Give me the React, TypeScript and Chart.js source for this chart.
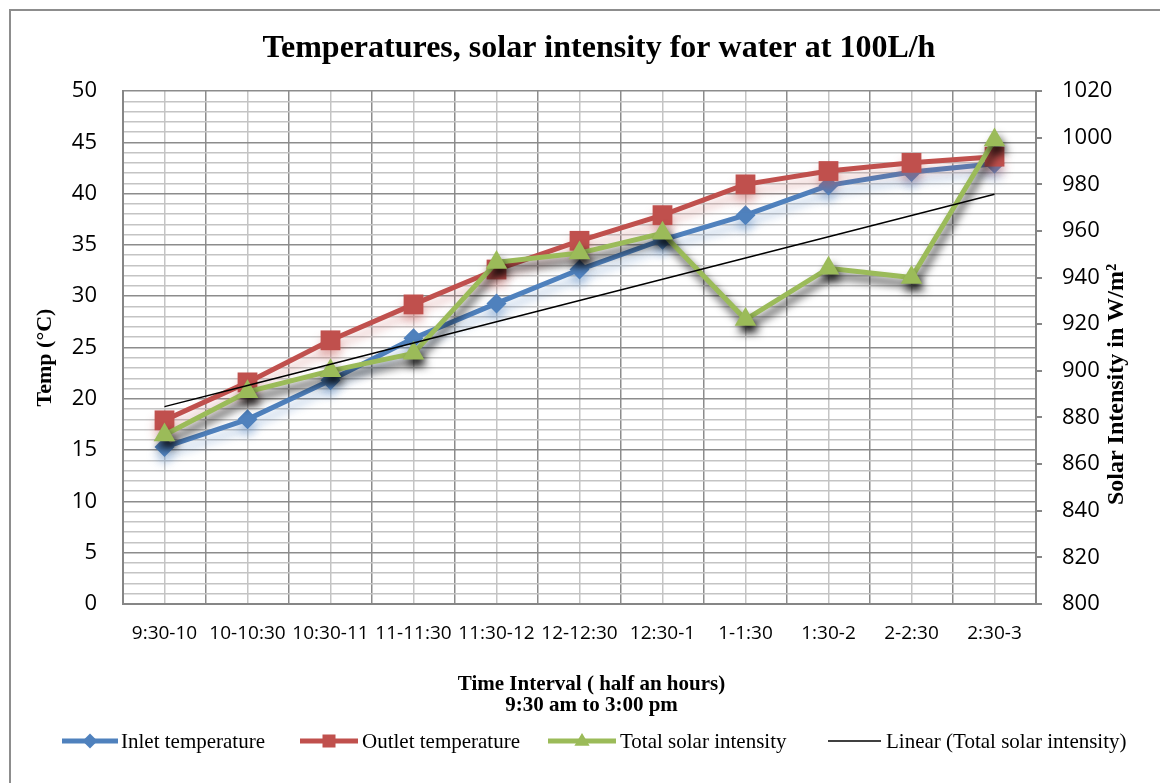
import React, { useEffect, useRef } from 'react';
import { Chart, registerables } from 'chart.js';

Chart.register(...registerables);

const categories = ['9:30-10', '10-10:30', '10:30-11', '11-11:30', '11:30-12', '12-12:30', '12:30-1', '1-1:30', '1:30-2', '2-2:30', '2:30-3'];
const inletTemp = [15.3, 18.0, 21.8, 25.9, 29.3, 32.6, 35.5, 37.9, 40.8, 42.1, 42.9];
const outletTemp = [17.9, 21.6, 25.7, 29.2, 32.6, 35.4, 37.9, 40.9, 42.2, 43.0, 43.6];
const solarIntensity = [872.5, 891, 900, 907.5, 946.5, 950.5, 959, 922, 944, 940, 999];

const titleText = 'Temperatures, solar intensity for water at 100L/h';
const xTitleLines = ['Time Interval ( half an hours)', '9:30 am to 3:00 pm'];
const yTitle = 'Temp (°C)';
const y1Title = 'Solar Intensity in W/m²';

const BLUE = '#4f81bd';
const RED = '#c0504d';
const GREEN = '#9bbb59';
const GRID_DARK = '#8c8c8c';
const GRID_LIGHT = '#c4c4c4';

function linearFit(values: number[]): number[] {
  const n = values.length;
  const mx = (n - 1) / 2;
  const my = values.reduce((a, b) => a + b, 0) / n;
  let sxy = 0;
  let sxx = 0;
  values.forEach((v, i) => {
    sxy += (i - mx) * (v - my);
    sxx += (i - mx) * (i - mx);
  });
  const b = sxy / sxx;
  const a = my - b * mx;
  return values.map((_, i) => a + b * i);
}

const shadowPlugin = {
  id: 'seriesShadows',
  beforeDatasetDraw(chart: any, args: any) {
    const ds: any = chart.data.datasets[args.index];
    const s = ds.shadow;
    if (!s) return;
    const ctx = chart.ctx;
    ctx.save();
    ctx.shadowColor = s.color;
    ctx.shadowBlur = s.blur;
    ctx.shadowOffsetX = s.x;
    ctx.shadowOffsetY = s.y;
  },
  afterDatasetDraw(chart: any, args: any) {
    const ds: any = chart.data.datasets[args.index];
    if (ds.shadow) chart.ctx.restore();
  },
};

const axisTitlesPlugin = {
  id: 'axisTitles',
  afterDraw(chart: any) {
    const ctx = chart.ctx;
    const area = chart.chartArea;
    ctx.save();
    ctx.fillStyle = '#000';
    ctx.textAlign = 'center';
    ctx.textBaseline = 'middle';
    // left axis title
    ctx.save();
    ctx.font = 'bold 22px "Liberation Serif"';
    ctx.translate(45, (area.top + area.bottom) / 2 + 10);
    ctx.rotate(-Math.PI / 2);
    ctx.fillText(yTitle, 0, 0);
    ctx.restore();
    // right axis title
    ctx.save();
    ctx.font = 'bold 24px "Liberation Serif"';
    ctx.translate(1117, (area.top + area.bottom) / 2 + 37);
    ctx.rotate(-Math.PI / 2);
    ctx.fillText(y1Title, 0, 0);
    ctx.restore();
    // x axis title
    ctx.font = 'bold 21px "Liberation Serif"';
    const cx = (area.left + area.right) / 2 + 12;
    xTitleLines.forEach((line, i) => {
      ctx.fillText(line, cx, 685 + i * 21);
    });
    ctx.restore();
  },
};

function LegendMarker({ kind, color, width }: { kind: string; color: string; width: number }) {
  const h = 24;
  const cy = h / 2;
  const cx = width / 2;
  let marker: any = null;
  if (kind === 'diamond') {
    const r = 7.5;
    marker = <polygon points={`${cx},${cy - r} ${cx + r},${cy} ${cx},${cy + r} ${cx - r},${cy}`} fill={color} />;
  } else if (kind === 'square') {
    const s = 13;
    marker = <rect x={cx - s / 2} y={cy - s / 2} width={s} height={s} fill={color} />;
  } else if (kind === 'triangle') {
    const r = 8;
    marker = <polygon points={`${cx},${cy - r} ${cx + r * 0.95},${cy + r * 0.6} ${cx - r * 0.95},${cy + r * 0.6}`} fill={color} />;
  }
  return (
    <svg width={width} height={h} style={{ display: 'block' }}>
      <line x1={0} y1={cy} x2={width} y2={cy} stroke={color} strokeWidth={kind === 'none' ? 1.5 : 5} />
      {marker}
    </svg>
  );
}

const legendItems = [
  { label: 'Inlet temperature', color: BLUE, kind: 'diamond', left: 62, width: 56, textLeft: 121 },
  { label: 'Outlet temperature', color: RED, kind: 'square', left: 300, width: 58, textLeft: 362 },
  { label: 'Total solar intensity', color: GREEN, kind: 'triangle', left: 548, width: 68, textLeft: 620 },
  { label: 'Linear (Total solar intensity)', color: '#000', kind: 'none', left: 828, width: 53, textLeft: 886 },
];

export default function App() {
  const canvasRef = useRef<HTMLCanvasElement | null>(null);

  useEffect(() => {
    const canvas = canvasRef.current;
    if (!canvas) return;
    const trend = linearFit(solarIntensity);
    const chart = new Chart(canvas, {
      type: 'line',
      data: {
        labels: categories,
        datasets: [
          {
            label: 'Linear (Total solar intensity)',
            data: trend,
            yAxisID: 'y1',
            borderColor: '#000',
            borderWidth: 1.5,
            pointRadius: 0,
            order: 0,
          } as any,
          {
            label: 'Total solar intensity',
            data: solarIntensity,
            yAxisID: 'y1',
            borderColor: GREEN,
            backgroundColor: GREEN,
            borderWidth: 5,
            pointStyle: 'triangle',
            pointRadius: 12.5,
            pointBorderWidth: 0,
            order: 1,
            shadow: { color: 'rgba(0,0,0,0.8)', blur: 9, x: 3, y: 7 },
          } as any,
          {
            label: 'Outlet temperature',
            data: outletTemp,
            yAxisID: 'y',
            borderColor: RED,
            backgroundColor: RED,
            borderWidth: 5,
            pointStyle: 'rect',
            pointRadius: 14,
            pointBorderWidth: 0,
            order: 2,
            shadow: { color: 'rgba(192,80,77,0.35)', blur: 10, x: 0, y: 8 },
          } as any,
          {
            label: 'Inlet temperature',
            data: inletTemp,
            yAxisID: 'y',
            borderColor: BLUE,
            backgroundColor: BLUE,
            borderWidth: 5,
            pointStyle: 'rectRot',
            pointRadius: 10,
            pointBorderWidth: 0,
            order: 3,
            shadow: { color: 'rgba(79,129,189,0.4)', blur: 10, x: 0, y: 8 },
          } as any,
        ],
      },
      options: {
        responsive: false,
        animation: false,
        devicePixelRatio: 1,
        layout: { padding: { left: 38, right: 0, top: 0, bottom: 0 } },
        elements: { line: { tension: 0 } },
        plugins: {
          legend: { display: false },
          tooltip: { enabled: false },
          title: {
            display: true,
            text: titleText,
            color: '#000',
            font: { family: 'Liberation Serif', size: 32, weight: 'bold' },
            padding: { top: 30, bottom: 22.6 },
          },
        },
        scales: {
          x: {
            type: 'category',
            offset: true,
            grid: { offset: true, color: GRID_DARK, lineWidth: 1.5, drawTicks: false },
            border: { color: '#868686', width: 2 },
            ticks: {
              color: '#000',
              font: { family: 'Open Sans', size: 19 },
              padding: 18,
              maxRotation: 0,
              autoSkip: false,
            },
            afterFit: (s: any) => {
              s.height = 179;
            },
          },
          x2: {
            type: 'category',
            labels: categories,
            position: 'bottom',
            offset: true,
            grid: { offset: false, color: GRID_LIGHT, lineWidth: 1.5, drawTicks: false },
            border: { display: false },
            ticks: { display: false },
            afterFit: (s: any) => {
              s.height = 0;
            },
          },
          y: {
            position: 'left',
            min: 0,
            max: 50,
            ticks: {
              stepSize: 1,
              autoSkip: false,
              maxTicksLimit: 100,
              color: '#000',
              font: { family: 'Open Sans', size: 22 },
              padding: 26,
              callback: (v: any) => (Number(v) % 5 === 0 ? String(v) : ''),
            },
            grid: {
              color: (c: any) => (c.tick && c.tick.value % 5 === 0 ? GRID_DARK : GRID_LIGHT),
              lineWidth: 1.5,
              drawTicks: false,
            },
            border: { color: '#868686', width: 2 },
            afterFit: (s: any) => {
              s.width = 85;
            },
          },
          y1: {
            position: 'right',
            min: 800,
            max: 1020,
            ticks: {
              stepSize: 20,
              color: '#000',
              font: { family: 'Open Sans', size: 22 },
              padding: 20,
              callback: (v: any) => String(v),
            },
            grid: { drawOnChartArea: false, tickLength: 6, color: '#868686', lineWidth: 2 },
            border: { color: '#868686', width: 2 },
            afterFit: (s: any) => {
              s.width = 124;
            },
          },
        },
      } as any,
      plugins: [shadowPlugin, axisTitlesPlugin],
    });
    return () => {
      chart.destroy();
    };
  }, []);

  return (
    <div style={{ position: 'absolute', left: 0, top: 0, width: 1160, height: 783, overflow: 'hidden', background: '#fff' }}>
      <div
        style={{
          position: 'absolute',
          left: 9,
          top: 9,
          width: 1250,
          height: 900,
          border: '2px solid #8d8d8d',
          boxSizing: 'border-box',
        }}
      />
      <canvas ref={canvasRef} width={1160} height={783} style={{ position: 'absolute', left: 0, top: 0, width: 1160, height: 783 }} />
      {legendItems.map((it) => (
        <React.Fragment key={it.label}>
          <div style={{ position: 'absolute', left: it.left, top: 741 - 12 }}>
            <LegendMarker kind={it.kind} color={it.color} width={it.width} />
          </div>
          <div
            style={{
              position: 'absolute',
              left: it.textLeft,
              top: 741 - 13,
              height: 26,
              lineHeight: '26px',
              fontFamily: '"Liberation Serif"',
              fontSize: 21,
              color: '#000',
              whiteSpace: 'nowrap',
            }}
          >
            {it.label}
          </div>
        </React.Fragment>
      ))}
    </div>
  );
}
